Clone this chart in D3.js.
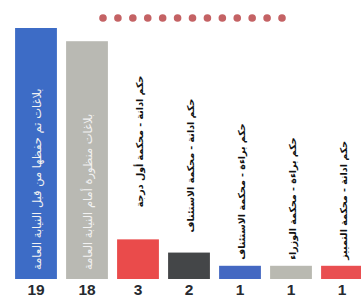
<!DOCTYPE html>
<html><head><meta charset="utf-8">
<script src="https://cdn.jsdelivr.net/npm/d3@7"></script>
<style>html,body{margin:0;padding:0;background:#fff;}svg{display:block;}</style>
</head><body>
<svg id="c" width="361" height="302"></svg>
<script>
const categories = [
  "بلاغات تم حفظها من قبل النيابة العامة",
  "بلاغات منظورة أمام النيابة العامة",
  "حكم ادانة - محكمة أول درجة",
  "حكم ادانة - محكمة الاستئناف",
  "حكم براءة - محكمة الاستئناف",
  "حكم براءة - محكمة الوزراء",
  "حكم ادانة - محكمة التمييز"
];
const values = [19, 18, 3, 2, 1, 1, 1];
const valueLabels = ["19", "18", "3", "2", "1", "1", "1"];
const colors = ["#3d6cc6", "#b9b9b3", "#ea4b4b", "#444648", "#4468c2", "#b9b9b1", "#e94f51"];
const dotCount = 13;

const svg = d3.select("#c");
const baseline = 279;
const x = d3.scaleBand().domain(d3.range(categories.length)).range([10.5, 367.5]).paddingInner(0.18).paddingOuter(0.09);
const y = d3.scaleLinear().domain([0, 19]).range([baseline, 28]);

// decorative dotted line at top
const dx = d3.scaleLinear().domain([0, dotCount - 1]).range([103, 282]);
svg.append("g").selectAll("circle").data(d3.range(dotCount)).join("circle")
  .attr("cx", d => dx(d)).attr("cy", 18).attr("r", 3.8).attr("fill", "#c46264");

// bars
svg.append("g").selectAll("rect").data(values).join("rect")
  .attr("x", (d, i) => x(i)).attr("width", x.bandwidth())
  .attr("y", d => y(d)).attr("height", d => baseline - y(d))
  .attr("fill", (d, i) => colors[i]);

// value labels
svg.append("g").selectAll("text").data(valueLabels).join("text")
  .attr("x", (d, i) => x(i) + x.bandwidth() / 2).attr("y", 295)
  .attr("text-anchor", "middle")
  .attr("font-family", "Liberation Sans, Arial, sans-serif")
  .attr("font-weight", "bold").attr("font-size", 15.5)
  .attr("fill", "#262a30").text(d => d);

// category labels (rotated)
const labelGap = [0, 0, 32, 20, 6, 6, 6];
svg.append("g").selectAll("text").data(categories).join("text")
  .attr("transform", (d, i) => {
    const cx = x(i) + x.bandwidth() / 2 + 1;
    const by = i < 2 ? baseline - 9 : y(values[i]) - labelGap[i];
    return `translate(${cx},${by}) rotate(-90)`;
  })
  .attr("text-anchor", "start")
  .attr("dominant-baseline", "central")
  .attr("font-family", "DejaVu Sans, sans-serif")
  .attr("font-weight", (d, i) => i < 2 ? "normal" : "bold")
  .attr("font-size", (d, i) => i < 2 ? 11.5 : 9.5)
  .attr("fill", (d, i) => i < 2 ? "#f2f2f2" : "#111")
  .text(d => d);
</script>
</body></html>
